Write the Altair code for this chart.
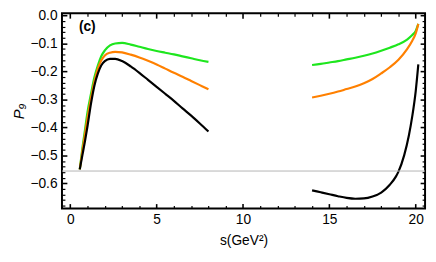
import altair as alt
import pandas as pd

# ---- data ----
s_left = [0.55, 0.7, 0.85, 1.0, 1.2, 1.4, 1.6, 1.8, 2.0, 2.3, 2.6, 3.0, 3.5, 4.0, 4.5, 5.0, 5.5, 6.0, 6.5, 7.0, 7.5, 8.0]
green_left = [-0.55, -0.475, -0.41, -0.345, -0.28, -0.22, -0.178, -0.145, -0.125, -0.107, -0.1, -0.098, -0.104, -0.112, -0.12, -0.127, -0.133, -0.139, -0.146, -0.153, -0.16, -0.166]
orange_left = [-0.55, -0.485, -0.425, -0.365, -0.295, -0.235, -0.19, -0.16, -0.143, -0.133, -0.13, -0.132, -0.14, -0.15, -0.162, -0.175, -0.19, -0.205, -0.219, -0.234, -0.249, -0.264]
black_left = [-0.55, -0.5, -0.45, -0.395, -0.315, -0.25, -0.207, -0.178, -0.163, -0.155, -0.155, -0.163, -0.182, -0.205, -0.23, -0.255, -0.28, -0.305, -0.332, -0.358, -0.386, -0.415]

s_right = [14.0, 14.5, 15.0, 15.5, 16.0, 16.5, 17.0, 17.5, 18.0, 18.5, 19.0, 19.5, 19.8, 20.0, 20.15]
green_right = [-0.177, -0.173, -0.168, -0.163, -0.157, -0.151, -0.144, -0.136, -0.126, -0.115, -0.103, -0.086, -0.07, -0.055, -0.03]
orange_right = [-0.293, -0.287, -0.28, -0.272, -0.263, -0.254, -0.242, -0.227, -0.207, -0.185, -0.158, -0.12, -0.09, -0.064, -0.03]

s_right_black = [14.0, 14.5, 15.0, 15.5, 16.0, 16.5, 17.0, 17.5, 18.0, 18.5, 18.85, 19.0, 19.33, 19.6, 19.8, 20.0, 20.15]
black_right = [-0.625, -0.632, -0.639, -0.646, -0.652, -0.655, -0.654, -0.647, -0.633, -0.605, -0.576, -0.558, -0.5, -0.43, -0.36, -0.27, -0.175]

hline_value = -0.556
x_major = [0, 5, 10, 15, 20]
x_minor = [v for v in range(0, 21) if v % 5 != 0]
y_major = [-0.6, -0.5, -0.4, -0.3, -0.2, -0.1, 0.0]
y_minor = [round(-0.68 + 0.02 * i, 2) for i in range(35) if round((-0.68 + 0.02 * i) * 100) % 10 != 0]

series_names = ["green", "orange", "black"]
series_colors = ["#1ee61e", "#ff8000", "#000000"]

rows = []
def add(name, seg, xs, ys):
    for i, (a, b) in enumerate(zip(xs, ys)):
        rows.append({"series": name, "seg": name + seg, "s": a, "p": b, "i": i})

add("green", "L", s_left, green_left)
add("orange", "L", s_left, orange_left)
add("black", "L", s_left, black_left)
add("green", "R", s_right, green_right)
add("orange", "R", s_right, orange_right)
add("black", "R", s_right_black, black_right)
df = pd.DataFrame(rows)

FONT = "Liberation Sans"
xscale = alt.Scale(domain=[-0.48, 20.54], nice=False, zero=False)
yscale = alt.Scale(domain=[-0.69, 0.008], nice=False, zero=False)

def ax(values, orient, size, labels=False, title=None, fmt=None, pad=5, tpad=8, tstyle="normal", tsize=14):
    kw = dict(values=values, orient=orient, offset=-size, tickSize=size,
              tickWidth=1.6 if size > 3 else 1.2, tickColor="black", ticks=True,
              domain=False, grid=False, labels=labels)
    if labels:
        kw.update(labelPadding=pad, labelFontSize=14, labelFont=FONT, labelColor="black")
        if fmt:
            kw["format"] = fmt
    if title is not None:
        kw.update(title=title, titleFontSize=tsize, titleFont=FONT, titleFontWeight="normal",
                  titleColor="black", titlePadding=tpad, titleFontStyle=tstyle)
    else:
        kw["title"] = None
    return alt.Axis(**kw)

base = alt.Chart(df)

lines = base.mark_line(strokeWidth=2.2, interpolate="monotone").encode(
    x=alt.X("s:Q", scale=xscale, axis=ax(x_major, "bottom", 5, labels=True, title="s(GeV²)", pad=4, tpad=8)),
    y=alt.Y("p:Q", scale=yscale, axis=ax(y_major, "left", 5, labels=True, title="P₉", fmt=".1f", pad=5, tpad=4, tstyle="italic", tsize=15)),
    color=alt.Color("series:N", scale=alt.Scale(domain=series_names, range=series_colors), legend=None),
    detail="seg:N",
    order="i:Q",
)

minor_bl = base.mark_point(opacity=0).encode(
    x=alt.X("s:Q", scale=xscale, axis=ax(x_minor, "bottom", 3)),
    y=alt.Y("p:Q", scale=yscale, axis=ax(y_minor, "left", 3)),
)
major_tr = base.mark_point(opacity=0).encode(
    x=alt.X("s:Q", scale=xscale, axis=ax(x_major, "top", 5)),
    y=alt.Y("p:Q", scale=yscale, axis=ax(y_major, "right", 5)),
)
minor_tr = base.mark_point(opacity=0).encode(
    x=alt.X("s:Q", scale=xscale, axis=ax(x_minor, "top", 3)),
    y=alt.Y("p:Q", scale=yscale, axis=ax(y_minor, "right", 3)),
)

rule = alt.Chart(pd.DataFrame({"h": [hline_value]})).mark_rule(color="#b4b4b4", strokeWidth=1).encode(
    y=alt.Y("h:Q", scale=yscale, axis=None)
)

label = alt.Chart(pd.DataFrame({"s": [0.5], "p": [-0.04], "t": ["(c)"]})).mark_text(
    align="left", baseline="middle", fontSize=14, fontWeight="bold", font=FONT, color="black"
).encode(
    x=alt.X("s:Q", scale=xscale, axis=None),
    y=alt.Y("p:Q", scale=yscale, axis=None),
    text="t:N",
)

chart = alt.layer(lines, minor_bl, major_tr, minor_tr, rule, label).resolve_axis(
    x="independent", y="independent"
).properties(
    width=370, height=199,
    autosize=alt.AutoSizeParams(type="none"),
    padding={"left": 55, "top": 3, "right": 3, "bottom": 44},
).configure_view(stroke="black", strokeWidth=2)

chart.save("out.html", embed_options={"renderer": "svg", "actions": False})
